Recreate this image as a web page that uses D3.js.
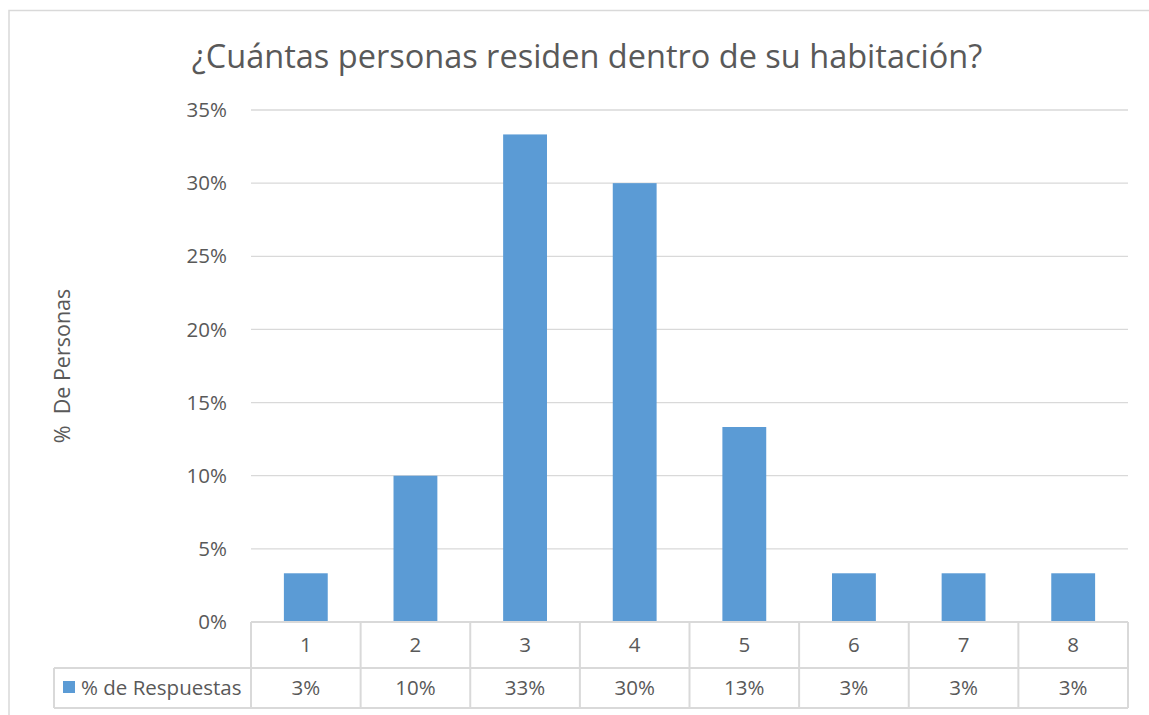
<!DOCTYPE html>
<head>
  <meta charset="utf-8">
  <style>
  body { margin: 0; background: #fff; }
  * { font-family: "Open Sans", sans-serif; }
  .grid line { stroke: #d9d9d9; stroke-width: 1.3px; }
  .tbl line { stroke: #d9d9d9; stroke-width: 2px; }
  text { fill: #595959; }
  </style>
  <title>Personas por habitación</title>
</head>
<body>
  <svg width="1149" height="715"></svg>
  <script src="https://cdnjs.cloudflare.com/ajax/libs/d3/7.8.5/d3.min.js"></script>
  <script>
  var categories = ["1", "2", "3", "4", "5", "6", "7", "8"];
  var values = [3.33, 10, 33.33, 30, 13.33, 3.33, 3.33, 3.33];
  var tableLabels = ["3%", "10%", "33%", "30%", "13%", "3%", "3%", "3%"];
  var yTicks = [0, 5, 10, 15, 20, 25, 30, 35];
  var seriesName = "% de Respuestas";

  var svg = d3.select("svg");

  // chart border
  svg.append("path")
      .attr("d", "M9,715V10.5H1149")
      .attr("fill", "none")
      .attr("stroke", "#d9d9d9")
      .attr("stroke-width", 1.5);

  var plotLeft = 251, plotRight = 1128, plotTop = 110, plotBottom = 622;

  var x = d3.scaleBand().domain(categories).range([plotLeft, plotRight]).paddingInner(0.6).paddingOuter(0.3);
  var xCell = d3.scaleBand().domain(categories).range([plotLeft, plotRight]);
  var y = d3.scaleLinear().domain([0, 35]).range([plotBottom, plotTop]);

  svg.append("g").attr("class", "grid")
    .selectAll("line")
    .data(yTicks.filter(function(d) { return d > 0; }))
    .enter().append("line")
      .attr("x1", plotLeft).attr("x2", plotRight)
      .attr("y1", function(d) { return y(d); })
      .attr("y2", function(d) { return y(d); });

  svg.append("g")
    .selectAll("text")
    .data(yTicks)
    .enter().append("text")
      .attr("x", 227)
      .attr("y", function(d) { return y(d); })
      .attr("dy", "0.35em")
      .attr("text-anchor", "end")
      .style("font-size", "20.5px")
      .text(function(d) { return d + "%"; });

  svg.append("g")
    .selectAll("rect")
    .data(values)
    .enter().append("rect")
      .attr("x", function(d, i) { return x(categories[i]); })
      .attr("width", x.bandwidth())
      .attr("y", function(d) { return y(d); })
      .attr("height", function(d) { return plotBottom - y(d); })
      .attr("fill", "#5b9bd5");

  // data table
  var row1 = 668, row2 = 708, legLeft = 54;
  var tbl = svg.append("g").attr("class", "tbl");
  tbl.append("line").attr("x1", plotLeft).attr("x2", plotRight).attr("y1", plotBottom).attr("y2", plotBottom);
  tbl.append("line").attr("x1", legLeft).attr("x2", plotRight).attr("y1", row1).attr("y2", row1);
  tbl.append("line").attr("x1", legLeft).attr("x2", plotRight).attr("y1", row2).attr("y2", row2);
  tbl.append("line").attr("x1", legLeft).attr("x2", legLeft).attr("y1", row1).attr("y2", row2);
  tbl.selectAll(".v")
    .data(categories.concat(["end"]))
    .enter().append("line")
      .attr("x1", function(d, i) { return i < categories.length ? xCell(d) : plotRight; })
      .attr("x2", function(d, i) { return i < categories.length ? xCell(d) : plotRight; })
      .attr("y1", plotBottom).attr("y2", row2);

  svg.append("g")
    .selectAll("text")
    .data(categories)
    .enter().append("text")
      .attr("x", function(d) { return xCell(d) + xCell.bandwidth() / 2; })
      .attr("y", (plotBottom + row1) / 2)
      .attr("dy", "0.35em")
      .attr("text-anchor", "middle")
      .style("font-size", "20.5px")
      .text(function(d) { return d; });

  svg.append("g")
    .selectAll("text")
    .data(tableLabels)
    .enter().append("text")
      .attr("x", function(d, i) { return xCell(categories[i]) + xCell.bandwidth() / 2; })
      .attr("y", (row1 + row2) / 2)
      .attr("dy", "0.35em")
      .attr("text-anchor", "middle")
      .style("font-size", "20.5px")
      .text(function(d) { return d; });

  svg.append("rect")
      .attr("x", 63).attr("y", 681)
      .attr("width", 12).attr("height", 12)
      .attr("fill", "#5b9bd5");
  svg.append("text")
      .attr("x", 81).attr("y", (row1 + row2) / 2)
      .attr("dy", "0.35em")
      .style("font-size", "20.5px")
      .text(seriesName);

  // titles
  svg.append("text")
      .attr("x", 587).attr("y", 57)
      .attr("dy", "0.35em")
      .attr("text-anchor", "middle")
      .style("font-size", "32.5px")
      .text("¿Cuántas personas residen dentro de su habitación?");

  svg.append("text")
      .attr("transform", "translate(62,366) rotate(-90)")
      .attr("dy", "0.35em")
      .attr("text-anchor", "middle")
      .style("font-size", "21.5px")
      .style("white-space", "pre")
      .text("%  De Personas");
  </script>
</body>
